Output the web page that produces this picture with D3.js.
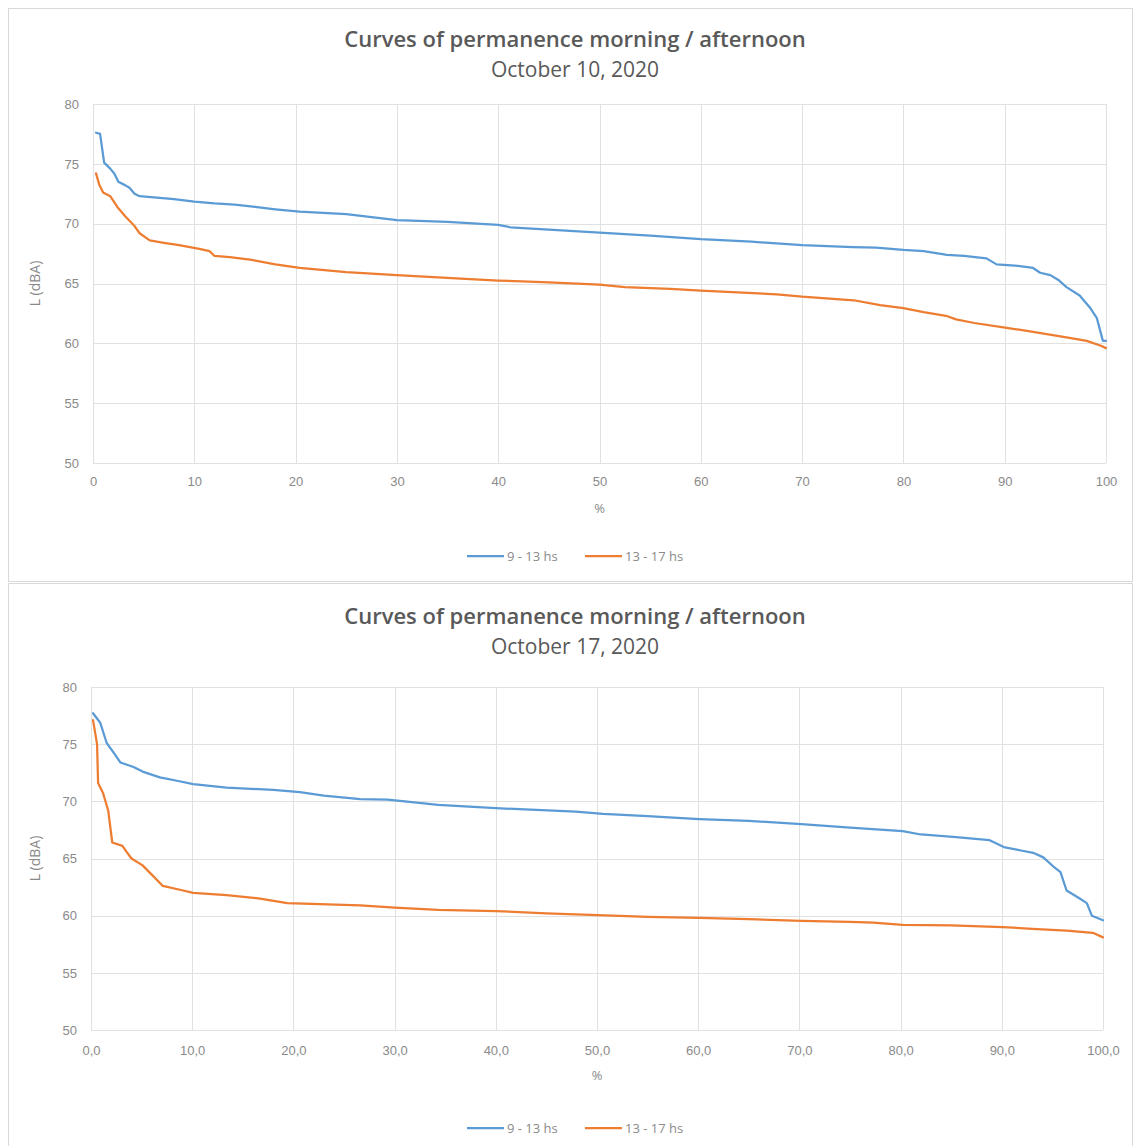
<!DOCTYPE html>
<html><head><meta charset="utf-8">
<script src="https://cdn.jsdelivr.net/npm/d3@7"></script>
<style>
body{margin:0;background:#fff;}
svg{display:block;font-family:"Open Sans","Noto Sans",sans-serif;}
</style></head>
<body><svg id="c" width="1134" height="1146"></svg>
<script>
// ---------- DATA ----------
const chartTitle = "Curves of permanence morning / afternoon";
const subtitles = ["October 10, 2020", "October 17, 2020"];
const seriesNames = ["9 - 13 hs", "13 - 17 hs"];
const yTicks = [50, 55, 60, 65, 70, 75, 80];
const xTicksTop = [0,10,20,30,40,50,60,70,80,90,100];
const xTickLabelsTop = ["0","10","20","30","40","50","60","70","80","90","100"];
const xTickLabelsBottom = ["0,0","10,0","20,0","30,0","40,0","50,0","60,0","70,0","80,0","90,0","100,0"];

// Oct 10 — morning (9-13 hs): [% of time, L dBA]
const oct10Morning = [[0.3,77.6],[0.7,77.5],[1.1,75.1],[1.7,74.6],[2.1,74.2],[2.5,73.5],[3.2,73.2],[3.6,73.0],[4.1,72.5],[4.6,72.3],[6,72.2],[8,72.05],[10,71.85],[12,71.7],[14,71.6],[16,71.4],[18,71.2],[20.4,71.0],[25,70.8],[30,70.3],[35,70.15],[40,69.9],[41.2,69.7],[45,69.5],[50,69.25],[55,69.0],[60,68.7],[65,68.5],[70,68.2],[75,68.05],[77.3,68.0],[80,67.8],[82,67.7],[84.3,67.4],[86,67.3],[88.2,67.1],[89.2,66.6],[91,66.5],[92.8,66.3],[93.5,65.9],[94.5,65.7],[95.3,65.3],[96.1,64.7],[97.4,64.0],[98.4,63.0],[99.1,62.1],[99.6,60.5],[99.7,60.2],[100,60.2]];
// Oct 10 — afternoon (13-17 hs)
const oct10Afternoon = [[0.3,74.2],[0.6,73.3],[1,72.6],[1.7,72.3],[2.4,71.4],[3.2,70.6],[4.1,69.8],[4.6,69.2],[5.6,68.6],[7,68.4],[8.5,68.2],[10.5,67.9],[11.5,67.7],[12,67.3],[13.5,67.2],[15.5,67.0],[18,66.6],[20.4,66.3],[25,65.95],[30,65.7],[36.3,65.4],[40,65.25],[45,65.1],[50,64.9],[52.5,64.7],[57,64.55],[60,64.4],[67.5,64.1],[70,63.9],[75.1,63.6],[77.7,63.2],[80,62.95],[82,62.6],[84.2,62.3],[85.2,62.0],[87,61.7],[90.2,61.3],[92.5,61.0],[96.1,60.5],[98.1,60.2],[99.5,59.8],[100,59.6]];
// Oct 17 — morning
const oct17Morning = [[0.2,77.7],[0.9,76.9],[1.55,75.1],[2.2,74.3],[2.9,73.4],[4.2,73.0],[5.1,72.6],[6.8,72.1],[8.5,71.8],[10.1,71.5],[13.4,71.2],[18,71.0],[20.65,70.8],[23,70.5],[26.6,70.2],[29.3,70.15],[31,70.0],[34.3,69.7],[40,69.4],[47.9,69.1],[50.6,68.9],[55,68.7],[60.1,68.45],[65,68.3],[70.2,68.0],[75,67.7],[80.2,67.4],[82,67.1],[85.2,66.9],[88.8,66.6],[90.2,66.0],[91.9,65.7],[93.1,65.5],[94.1,65.1],[95.1,64.3],[95.8,63.8],[96.4,62.2],[97.7,61.5],[98.4,61.1],[98.9,60.0],[100,59.6]];
// Oct 17 — afternoon
const oct17Afternoon = [[0.2,77.1],[0.6,75.0],[0.7,71.6],[1.2,70.7],[1.7,69.2],[2.1,66.4],[3.1,66.1],[3.5,65.6],[4,65.0],[5.1,64.4],[6.1,63.5],[7.1,62.6],[9.1,62.2],[10.1,62.0],[13.4,61.8],[16.7,61.5],[19.4,61.1],[22.6,61.0],[26.6,60.9],[30,60.7],[34.3,60.5],[40,60.4],[45,60.2],[50.1,60.05],[55,59.9],[60.1,59.8],[65,59.7],[70.2,59.55],[75,59.45],[77.3,59.4],[80.2,59.2],[85,59.15],[90.1,59.0],[93,58.85],[96.4,58.7],[99,58.5],[100,58.1]];

const colors = ["#5b9bd5", "#ed7d31"];

// ---------- DRAW ----------
const svg = d3.select("#c");

function drawChart(cfg){
  const g = svg.append("g");
  g.append("rect").attr("x",cfg.panel[0]+0.5).attr("y",cfg.panel[1]+0.5)
    .attr("width",cfg.panel[2]).attr("height",cfg.panel[3])
    .attr("fill","#fff").attr("stroke","#d9d9d9").attr("stroke-width",1);

  const x = d3.scaleLinear().domain([0,100]).range([cfg.x0, cfg.x1]);
  const y = d3.scaleLinear().domain([50,80]).range([cfg.yBottom, cfg.yTop]);

  g.append("g").selectAll("line").data(yTicks).join("line")
    .attr("x1",cfg.x0).attr("x2",cfg.x1)
    .attr("y1",d=>Math.round(y(d))+0.5).attr("y2",d=>Math.round(y(d))+0.5)
    .attr("stroke","#e1e1e1").attr("stroke-width",1);
  g.append("g").selectAll("line").data(xTicksTop).join("line")
    .attr("y1",cfg.yTop).attr("y2",cfg.yBottom)
    .attr("x1",d=>Math.round(x(d))+0.5).attr("x2",d=>Math.round(x(d))+0.5)
    .attr("stroke","#e1e1e1").attr("stroke-width",1);

  const yAxis = d3.axisLeft(y).tickValues(yTicks).tickSize(0).tickPadding(14);
  const ya = g.append("g").attr("transform",`translate(${cfg.x0},0)`).call(yAxis);
  ya.select(".domain").remove();
  ya.selectAll("text").attr("fill","#8a8a8a").style("font-size","13px");

  const xAxis = d3.axisBottom(x).tickValues(xTicksTop).tickSize(0).tickPadding(cfg.xPad)
    .tickFormat((d,i)=>cfg.xLabels[i]);
  const xa = g.append("g").attr("transform",`translate(0,${cfg.yBottom})`).call(xAxis);
  xa.select(".domain").remove();
  xa.selectAll("text").attr("fill","#8a8a8a").style("font-size","13px");

  const line = d3.line().x(d=>x(d[0])).y(d=>y(d[1])).curve(d3.curveLinear);
  cfg.series.forEach((s,i)=>{
    g.append("path").datum(s).attr("d",line).attr("fill","none")
      .attr("stroke",colors[i]).attr("stroke-width",2.25)
      .attr("stroke-linejoin","round").attr("stroke-linecap","round");
  });

  const cx = 575;
  g.append("text").attr("x",cx).attr("y",cfg.titleY).attr("text-anchor","middle")
    .attr("fill","#595959").style("font-size","22px").style("font-weight","600").text(chartTitle);
  g.append("text").attr("x",cx).attr("y",cfg.titleY+30).attr("text-anchor","middle")
    .attr("fill","#595959").style("font-size","21px").text(cfg.subtitle);

  g.append("text").attr("x",(cfg.x0+cfg.x1)/2).attr("y",cfg.yBottom+50).attr("text-anchor","middle")
    .attr("fill","#8a8a8a").style("font-size","13px").text("%");
  g.append("text").attr("transform",`translate(40,${(cfg.yTop+cfg.yBottom)/2}) rotate(-90)`)
    .attr("text-anchor","middle").attr("fill","#8a8a8a").style("font-size","14px").text("L (dBA)");

  const ly = cfg.legendY;
  const items = [{x:467, tx:507},{x:585, tx:625}];
  items.forEach((it,i)=>{
    g.append("line").attr("x1",it.x).attr("x2",it.x+37).attr("y1",ly).attr("y2",ly)
      .attr("stroke",colors[i]).attr("stroke-width",2.25);
    g.append("text").attr("x",it.tx).attr("y",ly+5).attr("fill","#8a8a8a")
      .style("font-size","13px").text(seriesNames[i]);
  });
}

drawChart({panel:[8,8,1124,573], x0:93, x1:1106, yTop:104, yBottom:463, xPad:14,
  titleY:47, subtitle:subtitles[0], xLabels:xTickLabelsTop, legendY:556,
  series:[oct10Morning, oct10Afternoon]});
drawChart({panel:[8,583,1124,570], x0:91, x1:1103, yTop:687, yBottom:1030, xPad:16,
  titleY:624, subtitle:subtitles[1], xLabels:xTickLabelsBottom, legendY:1128,
  series:[oct17Morning, oct17Afternoon]});
</script></body></html>
